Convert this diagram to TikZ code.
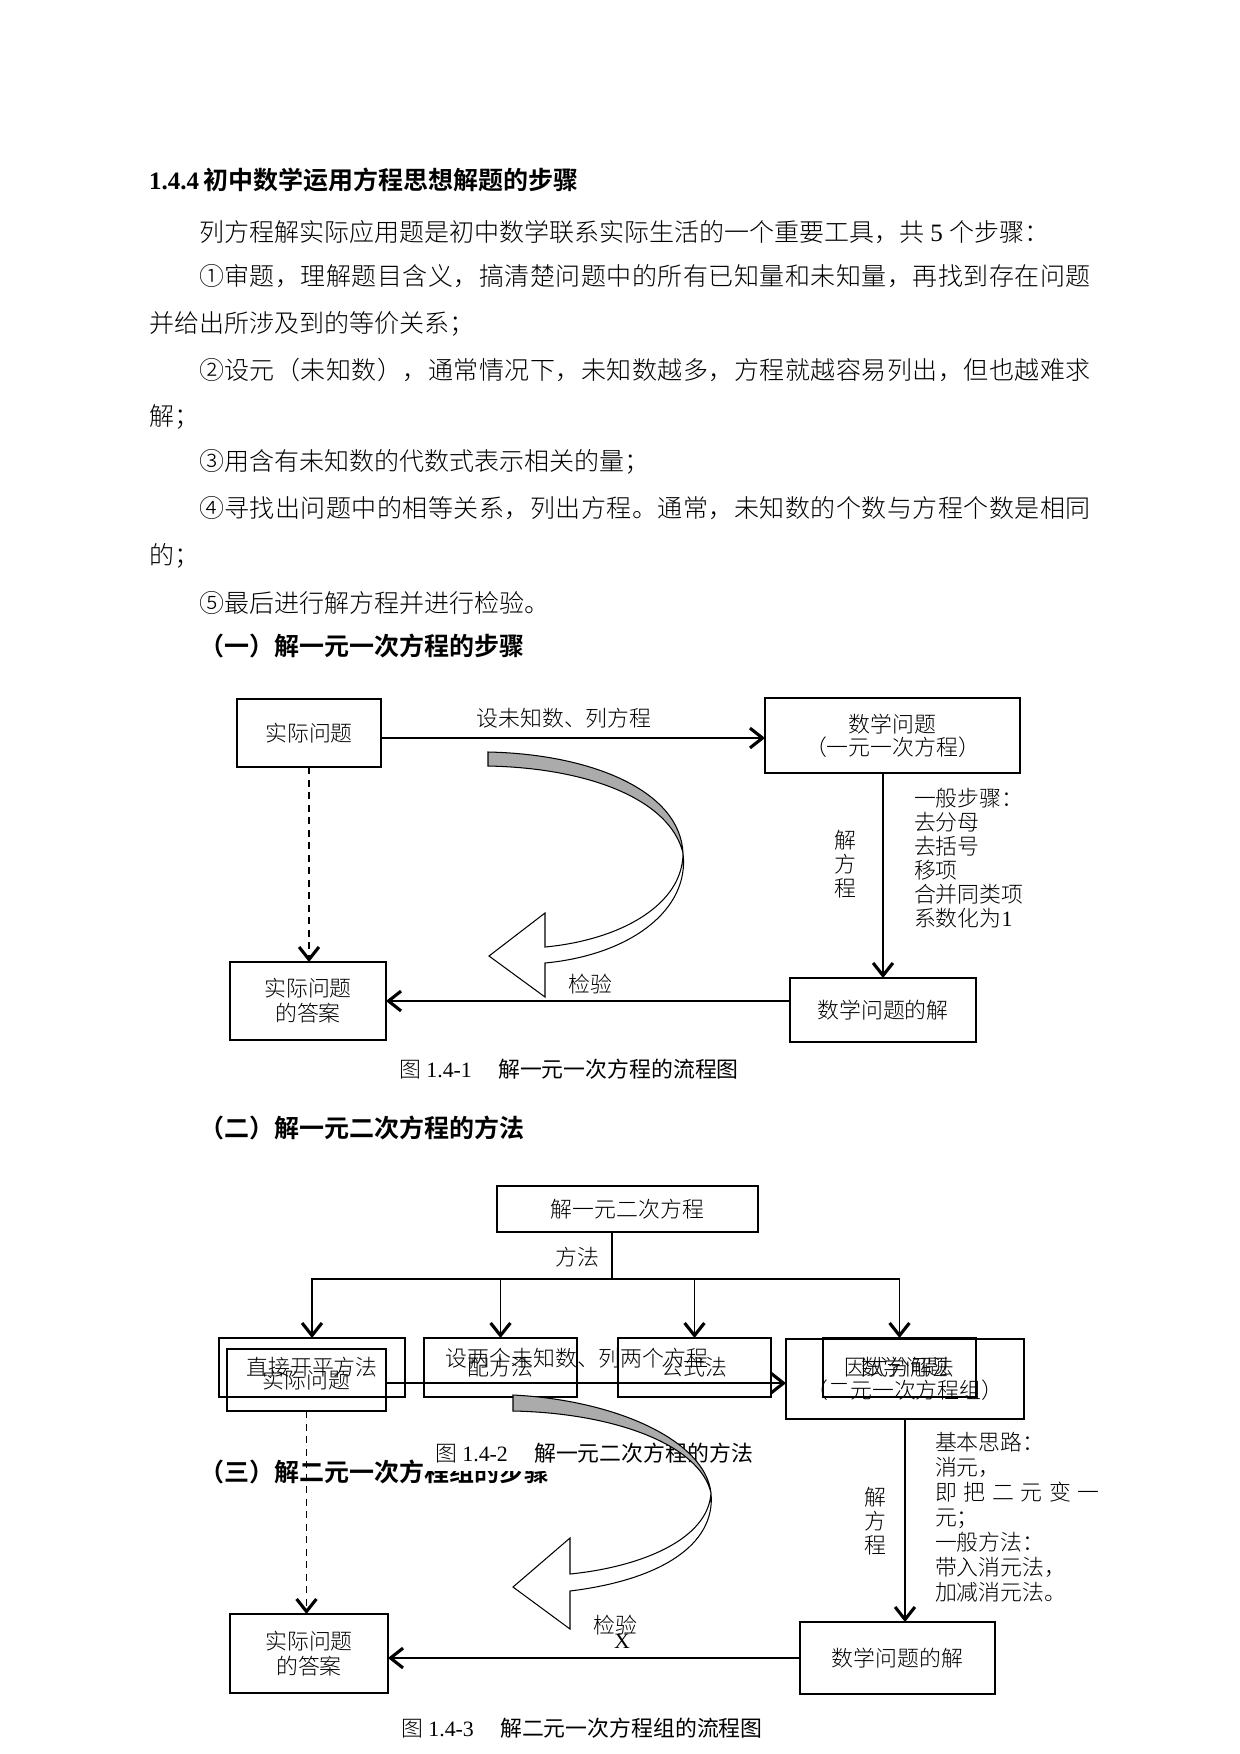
\documentclass[tikz,border=0pt]{standalone}
\usepackage{fontspec}
\setmainfont{Liberation Serif}
\newfontfamily\cjk{Noto Sans CJK SC}
\IfFontExistsTF{Noto Sans CJK SC Bold}{\newfontfamily\cjkb{Noto Sans CJK SC Bold}}{\newfontfamily\cjkb{Noto Sans CJK SC}[FakeBold=2]}
\IfFontExistsTF{Noto Sans CJK SC Light}{\newfontfamily\cjkl{Noto Sans CJK SC Light}\newfontfamily\cjkls{Noto Sans CJK SC Light}[LetterSpace=2.0]}{\newfontfamily\cjkl{Noto Sans CJK SC}\newfontfamily\cjkls{Noto Sans CJK SC}[LetterSpace=2.0]}
\usetikzlibrary{arrows.meta}
\def\PX{0.48pt}
\begin{document}
\begin{tikzpicture}[x=0.48pt,y=-0.48pt,
  every node/.style={inner sep=0pt, outer sep=0pt},
  bodytxt/.style={anchor=west, font=\fontsize{12pt}{14pt}\selectfont\cjkl},
  jbodytxt/.style={anchor=west, font=\fontsize{12pt}{14pt}\selectfont\cjkls},
  headtxt/.style={anchor=west, font=\fontsize{12pt}{14pt}\selectfont\cjkb},
  lbl/.style={font=\fontsize{10.5pt}{12pt}\selectfont\cjkl},
  captxt/.style={anchor=west, font=\fontsize{10.5pt}{12pt}\selectfont},
  bx/.style={draw, line width=0.8pt, align=center, font=\fontsize{10.5pt}{12pt}\selectfont\cjkl},
  tbx/.style={bx, line width=1.3pt},
  arr/.style={line width=0.8pt, -{Straight Barb[length=6pt,width=9.5pt,line width=1.5pt]}},
  dline/.style={dash pattern=on 3.5pt off 2.5pt},
  curvegray/.style={fill=black!33, draw=black, line width=0.5pt},
  curvewhite/.style={fill=white, draw=black, line width=0.5pt}
]
\fill[white] (0,0) rectangle (1240,1754);
\useasboundingbox (0,0) rectangle (1240,1754);

% ---------- text ----------
\node[headtxt] (h0) at (149,180) {{\rmfamily\bfseries 1.4.4}\,初中数学运用方程思想解题的步骤};
\node[bodytxt] (p1) at (199,232) {列方程解实际应用题是初中数学联系实际生活的一个重要工具，共{\rmfamily\ 5\ }个步骤：};
\node[jbodytxt] (p2) at (199,276) {①审题，理解题目含义，搞清楚问题中的所有已知量和未知量，再找到存在问题};
\node[bodytxt] (p3) at (149,324) {并给出所涉及到的等价关系；};
\node[jbodytxt] (p4) at (199,370) {②设元（未知数），通常情况下，未知数越多，方程就越容易列出，但也越难求};
\node[bodytxt] (p5) at (149,417) {解；};
\node[bodytxt] (p6) at (199,462) {③用含有未知数的代数式表示相关的量；};
\node[jbodytxt] (p7) at (199,508) {④寻找出问题中的相等关系，列出方程。通常，未知数的个数与方程个数是相同};
\node[bodytxt] (p8) at (149,556) {的；};
\node[bodytxt] (p9) at (199,603) {⑤最后进行解方程并进行检验。};
\node[headtxt] (h1) at (199,646) {（一）解一元一次方程的步骤};

% ---------- figure 1.4-1 ----------
\node[bx, minimum width={144*\PX}, minimum height={68*\PX}] (A1) at (309,733) {实际问题};
\node[bx, minimum width={255*\PX}, minimum height={75*\PX}, font=\fontsize{10.5pt}{11pt}\selectfont\cjkl] (B1) at (892.5,735.5) {数学问题\\（一元一次方程）};
\node[bx, minimum width={156*\PX}, minimum height={78*\PX}] (C1) at (308,1001) {实际问题\\的答案};
\node[bx, minimum width={186*\PX}, minimum height={64*\PX}] (D1) at (883,1010) {数学问题的解};

\draw[arr] ([yshift=-2.4pt]A1.east) -- ([yshift=-2.4pt]A1.east -| B1.west);
\node[lbl] (L1) at (564,718) {设未知数、列方程};
\draw[arr, dline] (A1.south) -- (A1.south |- C1.north);
\draw[arr] (D1.north |- B1.south) -- (D1.north);
\draw[arr] (C1.east -| D1.west) -- (C1.east);
\node[lbl] (K1) at (590,984) {检验};
\node[lbl, align=center, font=\fontsize{10.5pt}{11.5pt}\selectfont\cjkl] (J1) at (845,864) {解\\方\\程};
\node[lbl, anchor=west, align=left, font=\fontsize{10.5pt}{11.5pt}\selectfont\cjkl] (S1) at (914,858) {一般步骤：\\去分母\\去括号\\移项\\合并同类项\\系数化为{\rmfamily 1}};

\filldraw[curvegray] (488,752) .. controls (590,754) and (680,790) .. (683,853) .. controls (670,800) and (590,768) .. (488,766) -- cycle;
\filldraw[curvewhite] (683,853) .. controls (683,905) and (620,940) .. (545,947) -- (545,913) -- (489,956) -- (545,997) -- (545,963) .. controls (630,955) and (690,910) .. (683,853) -- cycle;

\node[captxt] (F1) at (399,1069) {{\cjkl 图}\ 1.4-1\hspace{1.2em}{\cjk 解一元一次方程的流程图}};

% ---------- figure 1.4-2 ----------
\node[headtxt] (h2) at (199,1128) {（二）解一元二次方程的方法};
\node[tbx, minimum width={261*\PX}, minimum height={46*\PX}] (T2) at (627.5,1209) {解一元二次方程};
\coordinate (split) at (612,1279);
\draw[line width=0.8pt] (split |- T2.south) -- (split);
\node[lbl] (M2) at (577,1257) {方法};
\node[tbx, minimum width={186*\PX}, minimum height={59*\PX}] (E1) at (312,1367.5) {直接开平方法};
\node[tbx, minimum width={153*\PX}, minimum height={59*\PX}] (E2) at (500.5,1367.5) {配方法};
\node[tbx, minimum width={153*\PX}, minimum height={59*\PX}] (E3) at (694.5,1367.5) {公式法};
\node[tbx, minimum width={153*\PX}, minimum height={59*\PX}] (E4) at (899.5,1367.5) {因式分解法};
\draw[arr] (split) -| (E1.north);
\draw[arr] (split) -| (E2.north);
\draw[arr] (split) -| (E3.north);
\draw[arr] (split) -| (E4.north);

\node[headtxt] (h3) at (199,1472) {（三）解二元一次方程组的步骤};
\fill[white] (423,1428) rectangle (765,1471);
\node[captxt] (F2) at (435,1453) {{\cjkl 图}\ 1.4-2\hspace{1.2em}{\cjk 解一元二次方程的方法}};

% ---------- figure 1.4-3 ----------
\node[bx, minimum width={159*\PX}, minimum height={62*\PX}] (A3) at (306.5,1380) {实际问题};
\node[bx, minimum width={238*\PX}, minimum height={80*\PX}, font=\fontsize{10.5pt}{11pt}\selectfont\cjkl] (B3) at (905,1379) {数学问题\\（二元一次方程组）};
\node[bx, minimum width={158*\PX}, minimum height={79*\PX}] (C3) at (309,1653.5) {实际问题\\的答案};
\node[bx, minimum width={195*\PX}, minimum height={72*\PX}] (D3) at (897.5,1658) {数学问题的解};

\draw[arr] ([yshift=-1.5pt]A3.east) -- ([yshift=-1.5pt]A3.east -| B3.west);
\node[lbl] (L3) at (577,1358) {设两个未知数、列两个方程};
\draw[arr, dline] (A3.south) -- (A3.south |- C3.north);
\draw[arr] (B3.south) -- (B3.south |- D3.north);
\draw[arr] (D3.west) -- (D3.west -| C3.east);
\node[lbl] (K3) at (615,1625) {检验};
\node[font=\fontsize{10.5pt}{12pt}\selectfont] (X3) at (622,1641) {X};
\node[lbl, align=center, font=\fontsize{10.5pt}{11.5pt}\selectfont\cjkl] (J3) at (875,1521) {解\\方\\程};
\node[lbl, anchor=west, align=left, font=\fontsize{10.5pt}{12pt}\selectfont\cjkl] (S3) at (935,1517) {基本思路：\\消元，\\\hbox to 79pt{即\hfill 把\hfill 二\hfill 元\hfill 变\hfill 一}\\元；\\一般方法：\\带入消元法，\\加减消元法。};

\filldraw[curvegray] (513,1395) .. controls (615,1400) and (705,1440) .. (711,1493) .. controls (700,1445) and (615,1413) .. (513,1411) -- cycle;
\filldraw[curvewhite] (711,1493) .. controls (708,1540) and (640,1567) .. (570,1574) -- (570,1538) -- (513,1587) -- (570,1629) -- (570,1591) .. controls (660,1580) and (716,1545) .. (711,1493) -- cycle;

\node[captxt] (F3) at (401,1728) {{\cjkl 图}\ 1.4-3\hspace{1.2em}{\cjk 解二元一次方程组的流程图}};
\end{tikzpicture}
\end{document}
